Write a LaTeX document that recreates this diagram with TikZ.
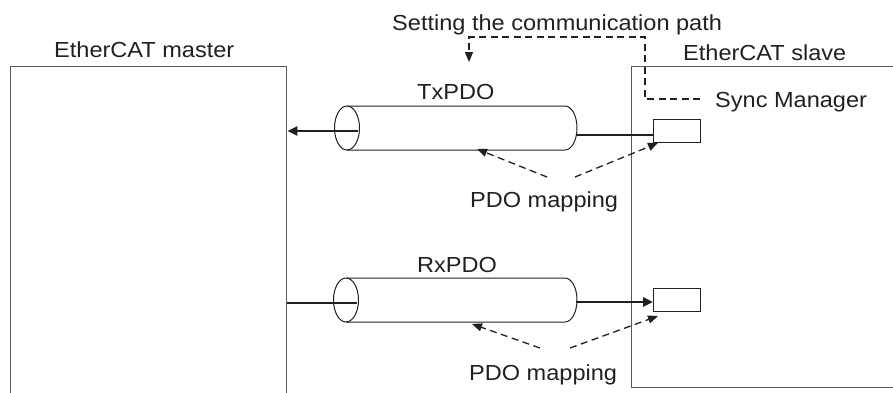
\documentclass[tikz,border=0pt]{standalone}
\usepackage{fontspec}
\setmainfont{Liberation Sans}[FakeStretch=1.08]
\usetikzlibrary{arrows.meta}
\definecolor{ink}{HTML}{231F20}
\definecolor{boxline}{HTML}{5A5A5A}
\tikzset{
  lbl/.style={inner sep=0pt, anchor=base west, text=ink, font=\fontsize{21.8pt}{25pt}\selectfont},
  bigbox/.style={draw=boxline, line width=1.3pt, inner sep=0pt, anchor=north west},
  smbox/.style={draw=ink, line width=1pt, inner sep=0pt, anchor=north west, minimum width=47pt, minimum height=23pt},
  cyl/.style={draw=ink, line width=1pt},
  flow/.style={draw=ink, line width=2.4pt},
  tipflow/.style={-{Triangle[length=10pt,width=9pt]}},
  dashline/.style={draw=ink, line width=1.3pt, dash pattern=on 7pt off 4.5pt},
  tipdash/.style={-{Triangle[length=10pt,width=8pt]}}
}
\begin{document}
\begin{tikzpicture}[x=1pt,y=-1pt]
\useasboundingbox (0,0) rectangle (893,392);
% boxes
\node[bigbox, minimum width=276pt, minimum height=345pt] (master) at (10,66) {};
\node[bigbox, minimum width=280pt, minimum height=321pt] (slave) at (631,66) {};
\node[smbox] (sm1) at (653,119) {};
\node[smbox] (sm2) at (653,288) {};
% labels
\node[lbl] (setting) at (392,30) {Setting the communication path};
\node[lbl] (mlabel) at (54,57) {EtherCAT master};
\node[lbl] (slabel) at (683,60) {EtherCAT slave};
\node[lbl] (sync) at (715,107) {Sync Manager};
\node[lbl] (tx) at (417,99) {TxPDO};
\node[lbl] (rx) at (417,272) {RxPDO};
\node[lbl] (map1) at (470,207) {PDO mapping};
\node[lbl] (map2) at (469,380) {PDO mapping};
% TxPDO cylinder
\draw[cyl] (347,106) -- (565,106) arc[start angle=-90,end angle=90,x radius=12,y radius=22] -- (347,150);
\draw[cyl] (347,128) ellipse[x radius=12.5, y radius=22];
% RxPDO cylinder
\draw[cyl] (346,278) -- (565,278) arc[start angle=-90,end angle=90,x radius=12,y radius=22] -- (346,322);
\draw[cyl] (346,300) ellipse[x radius=12.5, y radius=22];
% coordinates
\coordinate (txin) at (358,131);
\coordinate (txout) at (576,135);
\coordinate (rxin) at (357,303);
\coordinate (rxout) at (576,302);
\coordinate (smdash) at (700,99);
\coordinate (cyltip) at (469,62);
\coordinate (m1a) at (547,177);
\coordinate (m1b) at (575,177);
\coordinate (m2a) at (540,348);
\coordinate (m2b) at (570,348);
\coordinate (tx1tip) at (477,149);
\coordinate (rx1tip) at (472,324);
% flows
\draw[flow, tipflow] (txin) -- (master.east |- txin);
\draw[flow] (txout) -- (sm1.west |- txout);
\draw[flow] (master.east |- rxin) -- (rxin);
\draw[flow, tipflow] (rxout) -- (sm2.west |- rxout);
% communication path
\draw[dashline, tipdash] (smdash) -- (645,99) |- (469,37) -- (cyltip);
% PDO mapping arrows
\draw[dashline, tipdash] (m1a) -- (tx1tip);
\draw[dashline, tipdash] (m1b) -- ([xshift=5pt]sm1.south west);
\draw[dashline, tipdash] (m2a) -- (rx1tip);
\draw[dashline, tipdash] (m2b) -- ([xshift=5pt,yshift=-4pt]sm2.south west);
\end{tikzpicture}
\end{document}
